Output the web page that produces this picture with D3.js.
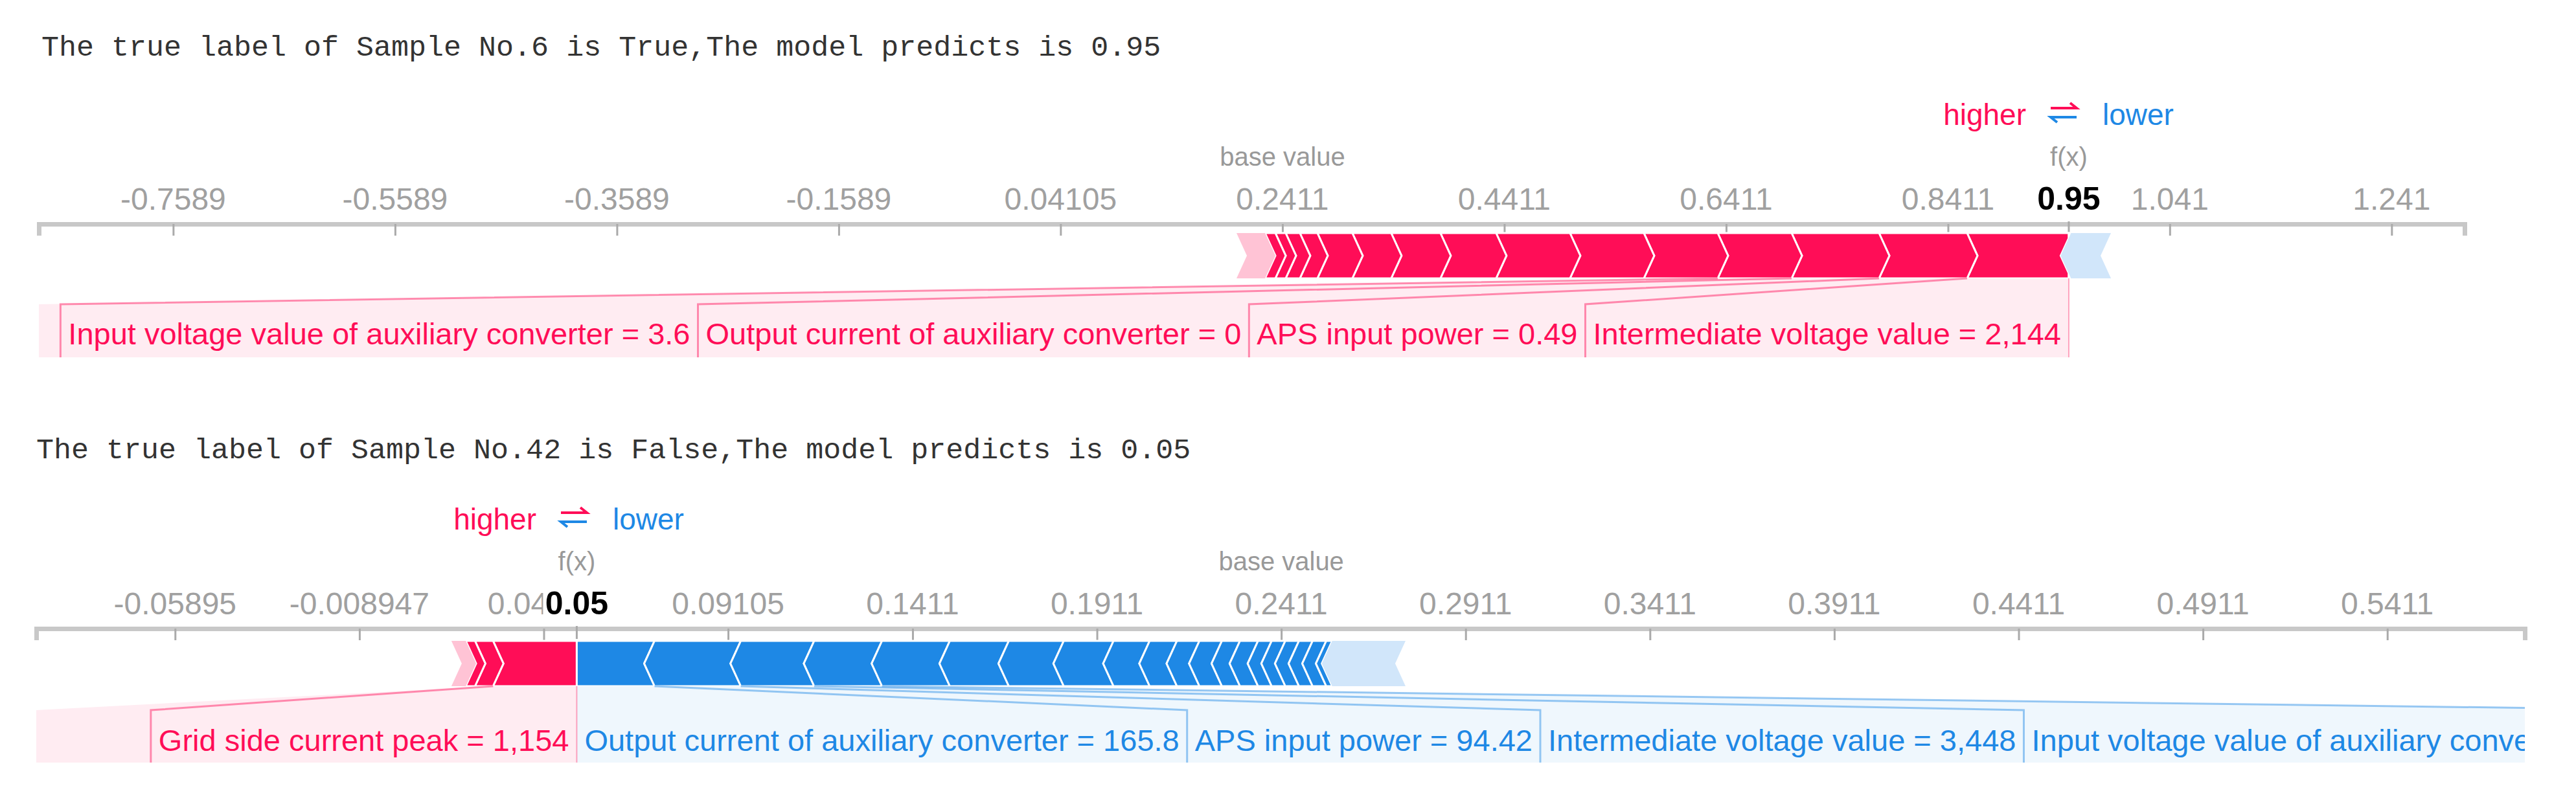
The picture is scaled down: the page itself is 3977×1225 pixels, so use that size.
<!DOCTYPE html>
<html><head><meta charset="utf-8">
<script src="https://cdn.jsdelivr.net/npm/d3@7"></script>
<style>body{margin:0;background:#fff}svg{display:block}</style>
</head><body>
<script>
// ---------- data ----------
const titles = ["The true label of Sample No.6 is True,The model predicts is 0.95",
                "The true label of Sample No.42 is False,The model predicts is 0.05"];
const baseValues = [0.2411, 0.2411];
const fxValues = [0.95, 0.05];
const ticks1 = [-0.7589,-0.5589,-0.3589,-0.1589,0.04105,0.2411,0.4411,0.6411,0.8411,1.041,1.241];
const tickLabels1 = ["-0.7589","-0.5589","-0.3589","-0.1589","0.04105","0.2411","0.4411","0.6411","0.8411","1.041","1.241"];
const ticks2 = [-0.05895,-0.008947,0.04105,0.09105,0.1411,0.1911,0.2411,0.2911,0.3411,0.3911,0.4411,0.4911,0.5411];
const tickLabels2 = ["-0.05895","-0.008947","0.04105","0.09105","0.1411","0.1911","0.2411","0.2911","0.3411","0.3911","0.4411","0.4911","0.5411"];
const domain1 = [-0.880, 1.3068];
const domain2 = [-0.0966, 0.5784];
// positive (red) contributions ordered from f(x) outward; last = faded remainder
const pos1 = [0.0917,0.0794,0.0788,0.0666,0.0666,0.0666,0.0666,0.0502,0.0444,0.0350,0.0315,0.0158,0.0128,0.0093,0.0093];
const posRest1 = 0.0257;
const neg1 = [0.002];
const negRest1 = 0.036;
const pos2 = [0.0227,0.0049,0.0025];
const posRest2 = 0.0039;
const neg2 = [0.0211,0.0234,0.0199,0.0184,0.0184,0.0160,0.0149,0.0135,0.0098,0.0074,0.0061,0.0061,0.0049,0.0049,0.0037,0.0037,0.0037,0.0037,0.0037,0.0016];
const negRest2 = 0.0199;
const posLabels1 = ["Intermediate voltage value = 2,144","APS input power = 0.49","Output current of auxiliary converter = 0","Input voltage value of auxiliary converter = 3.6"];
const negLabels1 = [];
const posLabels2 = ["Grid side current peak = 1,154"];
const negLabels2 = ["Output current of auxiliary converter = 165.8","APS input power = 94.42","Intermediate voltage value = 3,448","Input voltage value of auxiliary converter = 1,640"];

const RED="#ff0d57", BLUE="#1e88e5", LRED="#ffc3d5", LBLUE="#d1e6fa";
const W=3977,H=1225, LFS=47;
const svg=d3.select("body").append("svg").attr("width",W).attr("height",H);

function panel(o){
  const g=svg.append("g");
  const x=d3.scaleLinear().domain(o.domain).range([o.x0,o.x1]);
  g.append("text").attr("x",o.titleX).attr("y",o.titleY).attr("font-family","Liberation Mono, monospace")
   .attr("font-size",45).attr("fill","#333").text(o.title);
  const axis=d3.axisBottom(x).tickValues(o.ticks).tickSize(18).tickFormat(()=> "");
  const ag=g.append("g").attr("transform",`translate(0,${o.axisY})`).call(axis);
  ag.select(".domain").attr("stroke","#c8c8c8").attr("stroke-width",7);
  ag.selectAll(".tick line").attr("stroke","#aaa").attr("stroke-width",3);
  o.ticks.forEach((t,i)=>g.append("text").attr("x",x(t)).attr("y",o.axisY-22).attr("text-anchor","middle")
     .attr("font-family","Arial, Liberation Sans").attr("font-size",48).attr("fill","#a0a0a0").text(o.tickLabels[i]));
  const fxX=x(o.fx);
  g.append("rect").attr("x",fxX-52).attr("y",o.axisY-70).attr("width",104).attr("height",56).attr("fill","#fff");
  g.append("text").attr("x",fxX).attr("y",o.axisY-22).attr("text-anchor","middle").attr("font-family","Arial, Liberation Sans")
   .attr("font-size",50).attr("font-weight","bold").attr("fill","#000").text(d3.format(".2f")(o.fx));
  g.append("line").attr("x1",fxX).attr("x2",fxX).attr("y1",o.axisY-4).attr("y2",o.axisY+16).attr("stroke","#aaa").attr("stroke-width",3);
  g.append("text").attr("x",fxX).attr("y",o.axisY-90).attr("text-anchor","middle").attr("font-family","Arial, Liberation Sans")
   .attr("font-size",40).attr("fill","#999").text("f(x)");
  g.append("text").attr("x",x(o.base)).attr("y",o.axisY-90).attr("text-anchor","middle").attr("font-family","Arial, Liberation Sans")
   .attr("font-size",40).attr("fill","#999").text("base value");
  const lg=g.append("g").attr("font-family","Arial, Liberation Sans").attr("font-size",46);
  lg.append("text").attr("x",o.legX).attr("y",o.legY).attr("text-anchor","end").attr("fill",RED).text("higher");
  lg.append("path").attr("d",`M${o.legX+38},${o.legY-26}h40l-10,-8`)
    .attr("stroke",RED).attr("stroke-width",4).attr("fill","none");
  lg.append("path").attr("d",`M${o.legX+78},${o.legY-12}h-40l10,8`).attr("stroke",BLUE).attr("stroke-width",4).attr("fill","none");
  lg.append("text").attr("x",o.legX+118).attr("y",o.legY).attr("fill",BLUE).text("lower");

  const top=o.barTop, bot=o.barBot, mid=(top+bot)/2, a=16;
  function segs(vals,rest,dir){
    const out=[]; let cur=o.fx;
    vals.concat([rest]).forEach((v,i)=>{const nxt=cur+dir*v; out.push({a:cur,b:nxt,i,rest:i===vals.length}); cur=nxt;});
    return out;
  }
  const red=segs(o.pos,o.posRest,-1), blue=segs(o.neg,o.negRest,1);
  red.forEach(s=>{
    const xr=x(s.a), xl=x(s.b);
    const rp = s.i===0 ? `${xr},${top} ${xr},${bot}` : `${xr},${top} ${xr+a},${mid} ${xr},${bot}`;
    g.append("polygon").attr("points",`${xl},${top} ${rp} ${xl},${bot} ${xl+a},${mid}`)
     .attr("fill",s.rest?LRED:RED).attr("stroke","#fff").attr("stroke-width",s.rest?0:3);
  });
  blue.forEach(s=>{
    const xl=x(s.a), xr=x(s.b);
    const lp = s.i===0 ? `${xl},${bot} ${xl},${top}` : `${xl},${bot} ${xl-a},${mid} ${xl},${top}`;
    g.append("polygon").attr("points",`${lp} ${xr},${top} ${xr-a},${mid} ${xr},${bot}`)
     .attr("fill",s.rest?LBLUE:BLUE).attr("stroke","#fff").attr("stroke-width",s.rest?0:3);
  });
  const clip="clip"+o.id;
  svg.append("clipPath").attr("id",clip).append("rect").attr("x",o.x0).attr("y",0).attr("width",o.x1-o.x0).attr("height",H);
  const lgp=g.append("g").attr("clip-path",`url(#${clip})`);
  const lt=o.labTop, lb=o.labBot, pad=12;
  let edge=fxX;
  o.posLabels.forEach((t,i)=>{
    const tx=lgp.append("text").attr("x",edge-pad).attr("y",o.labY).attr("text-anchor","end").attr("font-family","Arial, Liberation Sans")
      .attr("font-size",LFS).attr("fill",RED).text(t);
    const w=tx.node().getComputedTextLength();
    let l0=edge-w-2*pad; if(i===o.posLabels.length-1) l0=Math.min(l0,o.x0);
    const s0=x(red[i].b), s1=x(red[i].a);
    lgp.insert("polygon","text").attr("points",`${s0},${bot} ${s1},${bot} ${edge},${lt} ${edge},${lb} ${l0},${lb} ${l0},${lt}`)
      .attr("fill",RED).attr("opacity",0.08);
    if(i<o.posLabels.length-1 || edge-w-2*pad>o.x0+5)
      lgp.append("path").attr("d",`M${s0},${bot}L${edge-w-2*pad},${lt}V${lb}`).attr("fill","none").attr("stroke",RED).attr("stroke-opacity",0.45).attr("stroke-width",3);
    edge=edge-w-2*pad;
  });
  edge=fxX;
  o.negLabels.forEach((t,i)=>{
    const tx=lgp.append("text").attr("x",edge+pad).attr("y",o.labY).attr("font-family","Arial, Liberation Sans")
      .attr("font-size",LFS).attr("fill",BLUE).text(t);
    const w=tx.node().getComputedTextLength();
    const s0=x(blue[i].a), s1=x(blue[i].b);
    lgp.insert("polygon","text").attr("points",`${s0},${bot} ${s1},${bot} ${edge+w+2*pad},${lt} ${edge+w+2*pad},${lb} ${edge},${lb} ${edge},${lt}`)
      .attr("fill",BLUE).attr("opacity",0.07);
    lgp.append("path").attr("d",`M${s1},${bot}L${edge+w+2*pad},${lt}V${lb}`).attr("fill","none").attr("stroke",BLUE).attr("stroke-opacity",0.45).attr("stroke-width",3);
    edge=edge+w+2*pad;
  });
  lgp.append("line").attr("x1",fxX).attr("x2",fxX).attr("y1",bot).attr("y2",lb).attr("stroke",RED).attr("stroke-opacity",0.35).attr("stroke-width",2);
}

panel({id:1,title:titles[0],titleX:64,titleY:86,domain:domain1,x0:60,x1:3805,ticks:ticks1,tickLabels:tickLabels1,
  fx:fxValues[0],base:baseValues[0],axisY:346,legX:3128,legY:193,barTop:360,barBot:430,labTop:470,labBot:552,labY:532,
  pos:pos1,posRest:posRest1,neg:neg1,negRest:negRest1,posLabels:posLabels1,negLabels:negLabels1});
panel({id:2,title:titles[1],titleX:56,titleY:708,domain:domain2,x0:56,x1:3898,ticks:ticks2,tickLabels:tickLabels2,
  fx:fxValues[1],base:baseValues[1],axisY:971,legX:828,legY:818,barTop:990,barBot:1060,labTop:1097,labBot:1178,labY:1160,
  pos:pos2,posRest:posRest2,neg:neg2,negRest:negRest2,posLabels:posLabels2,negLabels:negLabels2});
</script>
</body></html>
